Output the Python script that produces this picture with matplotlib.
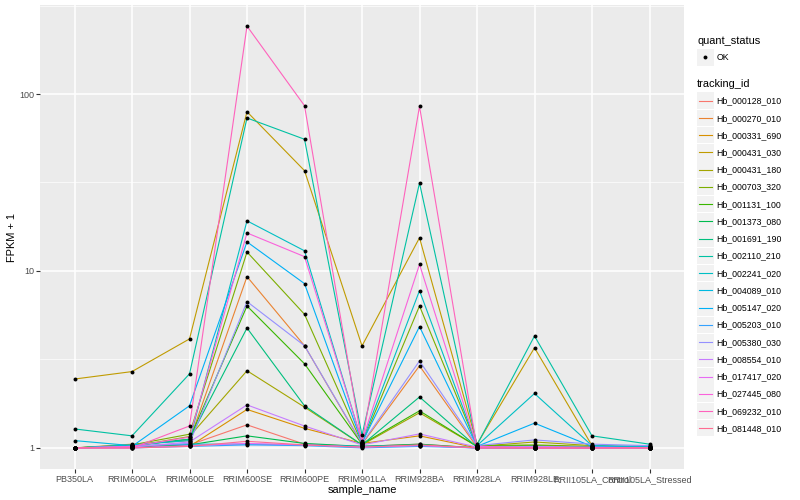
import matplotlib
matplotlib.use("Agg")
import matplotlib.pyplot as plt
from matplotlib.patches import Rectangle
import numpy as np

plt.rcParams['font.family'] = ['Liberation Sans', 'DejaVu Sans']

sample_name = ["PB350LA", "RRIM600LA", "RRIM600LE", "RRIM600SE", "RRIM600PE",
               "RRIM901LA", "RRIM928BA", "RRIM928LA", "RRIM928LE",
               "RRII105LA_Control", "RRII105LA_Stressed"]

# FPKM + 1 per tracking id, in sample_name order
hb_000128_010 = [1.0, 1.02, 1.04, 1.35, 1.05, 1.02, 1.05, 1.0, 1.0, 1.0, 1.0]
hb_000270_010 = [1.0, 1.05, 1.10, 9.29, 3.78, 1.05, 2.91, 1.01, 1.0, 1.0, 1.0]
hb_000331_690 = [1.0, 1.03, 1.02, 1.65, 1.29, 1.06, 1.17, 1.0, 1.0, 1.02, 1.0]
hb_000431_030 = [2.45, 2.70, 4.13, 79.4, 36.9, 3.77, 15.4, 1.05, 3.68, 1.03, 1.0]
hb_000431_180 = [1.0, 1.02, 1.16, 2.73, 1.70, 1.04, 1.58, 1.02, 1.08, 1.03, 1.01]
hb_000703_320 = [1.0, 1.04, 1.195, 12.8, 5.69, 1.06, 6.34, 1.03, 1.04, 1.02, 1.02]
hb_001131_100 = [1.0, 1.03, 1.12, 6.34, 2.99, 1.05, 1.62, 1.02, 1.03, 1.01, 1.0]
hb_001373_080 = [1.0, 1.01, 1.04, 1.17, 1.06, 1.02, 1.05, 1.0, 1.0, 1.0, 1.0]
hb_001691_190 = [1.0, 1.03, 1.12, 4.76, 1.73, 1.04, 1.94, 1.01, 1.02, 1.01, 1.0]
hb_002110_210 = [1.28, 1.17, 2.62, 73.2, 55.5, 1.18, 31.4, 1.04, 4.29, 1.17, 1.05]
hb_002241_020 = [1.0, 1.04, 1.10, 19.2, 13.0, 1.08, 7.74, 1.03, 2.03, 1.03, 1.02]
hb_004089_010 = [1.10, 1.03, 1.05, 1.05, 1.04, 1.02, 1.03, 1.0, 1.0, 1.0, 1.0]
hb_005147_020 = [1.0, 1.02, 1.73, 14.6, 8.48, 1.07, 4.85, 1.02, 1.38, 1.02, 1.01]
hb_005203_010 = [1.0, 1.0, 1.02, 1.04, 1.03, 1.0, 1.02, 1.0, 1.0, 1.0, 1.0]
hb_005380_030 = [1.0, 1.02, 1.06, 6.71, 3.78, 1.06, 3.10, 1.03, 1.11, 1.05, 1.03]
hb_008554_010 = [1.0, 1.01, 1.08, 1.75, 1.33, 1.04, 1.20, 1.01, 1.02, 1.01, 1.0]
hb_017417_020 = [1.0, 1.0, 1.03, 1.06, 1.04, 1.01, 1.03, 1.0, 1.0, 1.0, 1.0]
hb_027445_080 = [1.0, 1.02, 1.15, 16.4, 12.05, 1.09, 10.9, 1.02, 1.0, 1.0, 1.0]
hb_069232_010 = [1.0, 1.0, 1.33, 242.0, 85.9, 1.06, 85.2, 1.0, 1.0, 1.0, 1.0]
hb_081448_010 = [1.0, 1.0, 1.02, 1.09, 1.04, 1.01, 1.04, 1.0, 1.0, 1.0, 1.0]

tracking_id = ["Hb_000128_010", "Hb_000270_010", "Hb_000331_690", "Hb_000431_030",
               "Hb_000431_180", "Hb_000703_320", "Hb_001131_100", "Hb_001373_080",
               "Hb_001691_190", "Hb_002110_210", "Hb_002241_020", "Hb_004089_010",
               "Hb_005147_020", "Hb_005203_010", "Hb_005380_030", "Hb_008554_010",
               "Hb_017417_020", "Hb_027445_080", "Hb_069232_010", "Hb_081448_010"]

series = [hb_000128_010, hb_000270_010, hb_000331_690, hb_000431_030, hb_000431_180,
          hb_000703_320, hb_001131_100, hb_001373_080, hb_001691_190, hb_002110_210,
          hb_002241_020, hb_004089_010, hb_005147_020, hb_005203_010, hb_005380_030,
          hb_008554_010, hb_017417_020, hb_027445_080, hb_069232_010, hb_081448_010]

# ggplot default hue palette for 20 levels
colors = ["#F8766D", "#EA8331", "#D89000", "#C09B00", "#A3A500", "#7CAE00", "#39B600",
          "#00BB4E", "#00BF7D", "#00C1A3", "#00BFC4", "#00BAE0", "#00B0F6", "#35A2FF",
          "#9590FF", "#C77CFF", "#E76BF3", "#FA62DB", "#FF62BC", "#FF6C91"]

W, H = 800, 500
fig = plt.figure(figsize=(8, 5), dpi=100)
ax = fig.add_axes([40 / W, 1 - 469 / H, (684 - 40) / W, (469 - 5) / H])
ax.set_facecolor("#EBEBEB")

x = np.arange(len(sample_name))
for vals, col in zip(series, colors):
    ax.plot(x, vals, color=col, lw=0.8, zorder=3)
    ax.scatter(x, vals, s=8, color="black", zorder=4, linewidths=0)

ax.set_yscale("log")
lo, hi = 0.0, np.log10(max(max(s) for s in series))
pad = (hi - lo) * 0.05
ax.set_ylim(10 ** (lo - pad), 10 ** (hi + pad))
ax.set_xlim(-0.6, len(sample_name) - 0.4)

ax.set_yticks([1, 10, 100])
ax.set_yticklabels(["1", "10", "100"])
ax.yaxis.set_minor_locator(matplotlib.ticker.FixedLocator([10 ** 0.5, 10 ** 1.5, 10 ** 2.5]))
ax.yaxis.set_minor_formatter(matplotlib.ticker.NullFormatter())
ax.set_xticks(x)
ax.set_xticklabels(sample_name)

ax.grid(True, which="major", color="white", lw=1.1, zorder=1)
ax.grid(True, which="minor", axis="y", color="white", lw=0.5, zorder=1)
ax.set_axisbelow(True)
for sp in ax.spines.values():
    sp.set_visible(False)
ax.tick_params(which="major", length=2.7, width=0.8, color="#333333",
               labelcolor="#4D4D4D", labelsize=6.5, pad=1.5)
ax.tick_params(which="minor", length=0)
ax.set_xlabel("sample_name", fontsize=7.9, labelpad=1.0)
ax.set_ylabel("FPKM + 1", fontsize=7.9, labelpad=1.5)

# legends drawn in figure pixel coordinates
lg = fig.add_axes([0, 0, 1, 1])
lg.set_xlim(0, W)
lg.set_ylim(H, 0)
lg.axis("off")
lg.patch.set_alpha(0)

lg.text(697, 40.5, "quant_status", fontsize=7.9, va="center", ha="left")
lg.add_patch(Rectangle((697, 49), 16.5, 16.5, color="#F2F2F2", lw=0))
lg.scatter([705.2], [57.2], s=8, color="black", linewidths=0)
lg.text(716.5, 57.5, "OK", fontsize=6.3, va="center", ha="left")

lg.text(697, 84, "tracking_id", fontsize=7.9, va="center", ha="left")
y0, dy = 100.7, 17.24
for i, (name, col) in enumerate(zip(tracking_id, colors)):
    yc = y0 + i * dy
    lg.add_patch(Rectangle((697, yc - 8.3), 16.5, 16.5, color="#F2F2F2", lw=0))
    lg.plot([698.5, 711.5], [yc, yc], color=col, lw=0.8)
    lg.text(716.5, yc + 0.3, name, fontsize=6.3, va="center", ha="left")

fig.savefig("out.png", dpi=100)
